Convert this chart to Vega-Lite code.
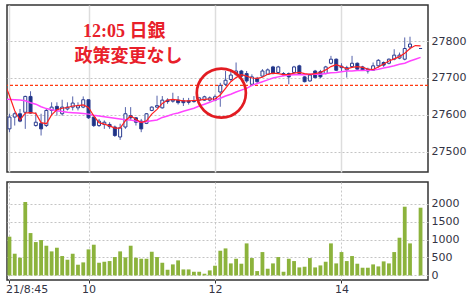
{
  "$schema": "https://vega.github.io/schema/vega-lite/v6.json",
  "padding": {"left": 4, "top": 4, "right": 0, "bottom": 0},
  "background": "white",
  "spacing": 8,
  "config": {
    "view": {"stroke": "#333333", "strokeWidth": 1.5},
    "axis": {
      "labelFont": "DejaVu Sans",
      "labelFontSize": 11,
      "labelColor": "#333344",
      "title": null,
      "domain": false
    }
  },
  "datasets": {
    "bars": [
      {"t": "2021-09-21T08:40", "m1": 27690, "m2": 27643},
      {"t": "2021-09-21T08:45", "o": 27562, "h": 27603, "l": 27553, "c": 27594, "v": 1080, "m1": 27652, "m2": 27642},
      {"t": "2021-09-21T08:50", "o": 27594, "h": 27607, "l": 27571, "c": 27603, "v": 605, "m1": 27611, "m2": 27641},
      {"t": "2021-09-21T08:55", "o": 27603, "h": 27616, "l": 27580, "c": 27583, "v": 493, "m1": 27586, "m2": 27640},
      {"t": "2021-09-21T09:00", "o": 27607, "h": 27652, "l": 27562, "c": 27650, "v": 2047, "m1": 27605, "m2": 27638},
      {"t": "2021-09-21T09:05", "o": 27650, "h": 27664, "l": 27603, "c": 27605, "v": 1181, "m1": 27606, "m2": 27633},
      {"t": "2021-09-21T09:10", "o": 27571, "h": 27607, "l": 27568, "c": 27580, "v": 930, "m1": 27604, "m2": 27629},
      {"t": "2021-09-21T09:15", "o": 27577, "h": 27603, "l": 27544, "c": 27562, "v": 986, "m1": 27579, "m2": 27622},
      {"t": "2021-09-21T09:20", "o": 27571, "h": 27616, "l": 27567, "c": 27612, "v": 828, "m1": 27576, "m2": 27617},
      {"t": "2021-09-21T09:25", "o": 27612, "h": 27634, "l": 27598, "c": 27621, "v": 670, "m1": 27600, "m2": 27614},
      {"t": "2021-09-21T09:30", "o": 27623, "h": 27634, "l": 27598, "c": 27614, "v": 772, "m1": 27614, "m2": 27611},
      {"t": "2021-09-21T09:35", "o": 27603, "h": 27641, "l": 27598, "c": 27621, "v": 540, "m1": 27618, "m2": 27609},
      {"t": "2021-09-21T09:40", "o": 27616, "h": 27634, "l": 27612, "c": 27621, "v": 437, "m1": 27620, "m2": 27607},
      {"t": "2021-09-21T09:45", "o": 27621, "h": 27650, "l": 27612, "c": 27632, "v": 605, "m1": 27624, "m2": 27606},
      {"t": "2021-09-21T09:50", "o": 27619, "h": 27634, "l": 27612, "c": 27625, "v": 298, "m1": 27625, "m2": 27605},
      {"t": "2021-09-21T09:55", "o": 27621, "h": 27650, "l": 27618, "c": 27641, "v": 363, "m1": 27627, "m2": 27604},
      {"t": "2021-09-21T10:00", "o": 27641, "h": 27641, "l": 27589, "c": 27592, "v": 726, "m1": 27620, "m2": 27602},
      {"t": "2021-09-21T10:05", "o": 27594, "h": 27594, "l": 27567, "c": 27571, "v": 856, "m1": 27597, "m2": 27599},
      {"t": "2021-09-21T10:10", "o": 27571, "h": 27589, "l": 27567, "c": 27583, "v": 353, "m1": 27579, "m2": 27597},
      {"t": "2021-09-21T10:15", "o": 27574, "h": 27585, "l": 27562, "c": 27580, "v": 381, "m1": 27575, "m2": 27595},
      {"t": "2021-09-21T10:20", "o": 27574, "h": 27580, "l": 27562, "c": 27568, "v": 400, "m1": 27570, "m2": 27593},
      {"t": "2021-09-21T10:25", "o": 27567, "h": 27571, "l": 27540, "c": 27544, "v": 512, "m1": 27564, "m2": 27591},
      {"t": "2021-09-21T10:30", "o": 27540, "h": 27576, "l": 27532, "c": 27565, "v": 670, "m1": 27564, "m2": 27589},
      {"t": "2021-09-21T10:35", "o": 27567, "h": 27621, "l": 27562, "c": 27603, "v": 502, "m1": 27584, "m2": 27587},
      {"t": "2021-09-21T10:40", "o": 27598, "h": 27621, "l": 27585, "c": 27592, "v": 828, "m1": 27597, "m2": 27586},
      {"t": "2021-09-21T10:45", "o": 27592, "h": 27594, "l": 27571, "c": 27580, "v": 493, "m1": 27588, "m2": 27583},
      {"t": "2021-09-21T10:50", "o": 27583, "h": 27589, "l": 27553, "c": 27562, "v": 465, "m1": 27579, "m2": 27580},
      {"t": "2021-09-21T10:55", "o": 27577, "h": 27605, "l": 27575, "c": 27603, "v": 465, "m1": 27584, "m2": 27582},
      {"t": "2021-09-21T11:00", "o": 27612, "h": 27623, "l": 27610, "c": 27621, "v": 660, "m1": 27602, "m2": 27584},
      {"t": "2021-09-21T11:05", "o": 27621, "h": 27652, "l": 27619, "c": 27625, "v": 512, "m1": 27615, "m2": 27586},
      {"t": "2021-09-21T11:10", "o": 27619, "h": 27651, "l": 27617, "c": 27640, "v": 353, "m1": 27631, "m2": 27593},
      {"t": "2021-09-21T11:15", "o": 27640, "h": 27645, "l": 27630, "c": 27636, "v": 158, "m1": 27640, "m2": 27597},
      {"t": "2021-09-21T11:20", "o": 27637, "h": 27660, "l": 27633, "c": 27640, "v": 307, "m1": 27642, "m2": 27602},
      {"t": "2021-09-21T11:25", "o": 27640, "h": 27651, "l": 27628, "c": 27633, "v": 419, "m1": 27640, "m2": 27605},
      {"t": "2021-09-21T11:30", "o": 27638, "h": 27646, "l": 27624, "c": 27633, "v": 167, "m1": 27638, "m2": 27610},
      {"t": "2021-09-21T11:35", "o": 27638, "h": 27646, "l": 27628, "c": 27634, "v": 167, "m1": 27638, "m2": 27614},
      {"t": "2021-09-21T11:40", "o": 27636, "h": 27651, "l": 27633, "c": 27638, "v": 102, "m1": 27639, "m2": 27618},
      {"t": "2021-09-21T11:45", "o": 27640, "h": 27648, "l": 27638, "c": 27646, "v": 102, "m1": 27640, "m2": 27624},
      {"t": "2021-09-21T11:50", "o": 27640, "h": 27652, "l": 27638, "c": 27649, "v": 47, "m1": 27642, "m2": 27629},
      {"t": "2021-09-21T11:55", "o": 27640, "h": 27650, "l": 27636, "c": 27646, "v": 140, "m1": 27643, "m2": 27634},
      {"t": "2021-09-21T12:00", "o": 27640, "h": 27655, "l": 27637, "c": 27649, "v": 270, "m1": 27643, "m2": 27640},
      {"t": "2021-09-21T12:05", "o": 27662, "h": 27687, "l": 27622, "c": 27680, "v": 688, "m1": 27654, "m2": 27645},
      {"t": "2021-09-21T12:10", "o": 27683, "h": 27719, "l": 27678, "c": 27694, "v": 753, "m1": 27672, "m2": 27651},
      {"t": "2021-09-21T12:15", "o": 27696, "h": 27722, "l": 27692, "c": 27708, "v": 335, "m1": 27690, "m2": 27656},
      {"t": "2021-09-21T12:20", "o": 27710, "h": 27742, "l": 27705, "c": 27719, "v": 465, "m1": 27701, "m2": 27662},
      {"t": "2021-09-21T12:25", "o": 27719, "h": 27722, "l": 27700, "c": 27705, "v": 326, "m1": 27709, "m2": 27667},
      {"t": "2021-09-21T12:30", "o": 27712, "h": 27719, "l": 27687, "c": 27692, "v": 893, "m1": 27705, "m2": 27672},
      {"t": "2021-09-21T12:35", "o": 27683, "h": 27710, "l": 27678, "c": 27703, "v": 484, "m1": 27700, "m2": 27680},
      {"t": "2021-09-21T12:40", "o": 27699, "h": 27703, "l": 27686, "c": 27690, "v": 121, "m1": 27699, "m2": 27685},
      {"t": "2021-09-21T12:45", "o": 27705, "h": 27724, "l": 27703, "c": 27719, "v": 651, "m1": 27702, "m2": 27690},
      {"t": "2021-09-21T12:50", "o": 27710, "h": 27726, "l": 27708, "c": 27722, "v": 186, "m1": 27710, "m2": 27695},
      {"t": "2021-09-21T12:55", "o": 27730, "h": 27733, "l": 27710, "c": 27712, "v": 335, "m1": 27713, "m2": 27700},
      {"t": "2021-09-21T13:00", "o": 27715, "h": 27733, "l": 27712, "c": 27730, "v": 512, "m1": 27712, "m2": 27703},
      {"t": "2021-09-21T13:05", "o": 27712, "h": 27716, "l": 27705, "c": 27708, "v": 102, "m1": 27709, "m2": 27706},
      {"t": "2021-09-21T13:10", "o": 27712, "h": 27715, "l": 27683, "c": 27703, "v": 465, "m1": 27710, "m2": 27708},
      {"t": "2021-09-21T13:15", "o": 27715, "h": 27733, "l": 27712, "c": 27730, "v": 400, "m1": 27713, "m2": 27709},
      {"t": "2021-09-21T13:20", "o": 27733, "h": 27736, "l": 27710, "c": 27712, "v": 223, "m1": 27715, "m2": 27709},
      {"t": "2021-09-21T13:25", "o": 27703, "h": 27705, "l": 27688, "c": 27690, "v": 242, "m1": 27712, "m2": 27709},
      {"t": "2021-09-21T13:30", "o": 27692, "h": 27712, "l": 27690, "c": 27708, "v": 484, "m1": 27710, "m2": 27710},
      {"t": "2021-09-21T13:35", "o": 27719, "h": 27722, "l": 27699, "c": 27701, "v": 223, "m1": 27712, "m2": 27710},
      {"t": "2021-09-21T13:40", "o": 27717, "h": 27722, "l": 27699, "c": 27703, "v": 279, "m1": 27715, "m2": 27710},
      {"t": "2021-09-21T13:45", "o": 27712, "h": 27733, "l": 27710, "c": 27730, "v": 381, "m1": 27722, "m2": 27712},
      {"t": "2021-09-21T13:50", "o": 27740, "h": 27760, "l": 27737, "c": 27751, "v": 893, "m1": 27731, "m2": 27714},
      {"t": "2021-09-21T13:55", "o": 27751, "h": 27753, "l": 27719, "c": 27721, "v": 335, "m1": 27736, "m2": 27715},
      {"t": "2021-09-21T14:00", "o": 27728, "h": 27740, "l": 27719, "c": 27732, "v": 651, "m1": 27731, "m2": 27717},
      {"t": "2021-09-21T14:05", "o": 27722, "h": 27733, "l": 27701, "c": 27728, "v": 400, "m1": 27725, "m2": 27719},
      {"t": "2021-09-21T14:10", "o": 27731, "h": 27760, "l": 27728, "c": 27740, "v": 540, "m1": 27729, "m2": 27719},
      {"t": "2021-09-21T14:15", "o": 27740, "h": 27742, "l": 27722, "c": 27724, "v": 326, "m1": 27731, "m2": 27720},
      {"t": "2021-09-21T14:20", "o": 27730, "h": 27733, "l": 27719, "c": 27721, "v": 214, "m1": 27729, "m2": 27720},
      {"t": "2021-09-21T14:25", "o": 27724, "h": 27728, "l": 27712, "c": 27719, "v": 214, "m1": 27724, "m2": 27721},
      {"t": "2021-09-21T14:30", "o": 27721, "h": 27742, "l": 27719, "c": 27733, "v": 307, "m1": 27723, "m2": 27722},
      {"t": "2021-09-21T14:35", "o": 27733, "h": 27751, "l": 27728, "c": 27748, "v": 251, "m1": 27730, "m2": 27724},
      {"t": "2021-09-21T14:40", "o": 27742, "h": 27745, "l": 27730, "c": 27735, "v": 391, "m1": 27738, "m2": 27727},
      {"t": "2021-09-21T14:45", "o": 27740, "h": 27753, "l": 27737, "c": 27751, "v": 335, "m1": 27746, "m2": 27730},
      {"t": "2021-09-21T14:50", "o": 27751, "h": 27778, "l": 27748, "c": 27762, "v": 651, "m1": 27752, "m2": 27733},
      {"t": "2021-09-21T14:55", "o": 27754, "h": 27769, "l": 27751, "c": 27762, "v": 1051, "m1": 27758, "m2": 27737},
      {"t": "2021-09-21T15:00", "o": 27751, "h": 27810, "l": 27748, "c": 27780, "v": 1916, "m1": 27767, "m2": 27740},
      {"t": "2021-09-21T15:05", "o": 27784, "h": 27812, "l": 27778, "c": 27792, "v": 893, "m1": 27780, "m2": 27746},
      {"t": "2021-09-21T15:10", "m1": 27788, "m2": 27751},
      {"t": "2021-09-21T15:15", "o": 27780, "h": 27780, "l": 27780, "c": 27780, "v": 1888, "m1": 27787, "m2": 27756}
    ],
    "notes": [
      {"t": "2021-09-21T10:34", "p": 27826, "label": "12:05 日銀"},
      {"t": "2021-09-21T10:38", "p": 27758, "label": "政策変更なし"}
    ],
    "focus": [{"t": "2021-09-21T12:06", "p": 27659}],
    "prev": [{"p": 27680}]
  },
  "vconcat": [
    {
      "width": 421,
      "height": 167,
      "data": {"name": "bars"},
      "encoding": {
        "x": {
          "field": "t",
          "type": "temporal",
          "scale": {
            "padding": 0,
            "domain": [
              {"year": 2021, "month": 9, "date": 21, "hours": 8, "minutes": 42, "seconds": 40},
              {"year": 2021, "month": 9, "date": 21, "hours": 15, "minutes": 22, "seconds": 4}
            ]
          },
          "axis": {
            "orient": "bottom",
            "labels": false,
            "ticks": false,
            "grid": true,
            "gridColor": "#dddddd",
            "gridWidth": 1.5,
            "values": [
              {"year": 2021, "month": 9, "date": 21, "hours": 8, "minutes": 45},
              {"year": 2021, "month": 9, "date": 21, "hours": 10, "minutes": 0},
              {"year": 2021, "month": 9, "date": 21, "hours": 12, "minutes": 0},
              {"year": 2021, "month": 9, "date": 21, "hours": 14, "minutes": 0}
            ]
          }
        }
      },
      "layer": [
        {
          "data": {"name": "prev"},
          "mark": {"type": "rule", "color": "#ff3a10", "strokeDash": [3, 2], "strokeWidth": 1.2},
          "encoding": {
            "x": null,
            "y": {
              "field": "p",
              "type": "quantitative",
              "scale": {"domain": [27445, 27898], "zero": false, "nice": false},
              "axis": {
                "orient": "right",
                "values": [27500, 27600, 27700, 27800],
                "format": "d",
                "ticks": false,
                "labelPadding": 3,
                "grid": true,
                "gridColor": "#c4c4c4",
                "gridDash": [2, 2],
                "gridWidth": 1
              }
            }
          }
        },
        {
          "mark": {"type": "rule", "color": "#5563ab", "strokeWidth": 1},
          "encoding": {
            "y": {"field": "l", "type": "quantitative"},
            "y2": {"field": "h"}
          }
        },
        {
          "mark": {"type": "bar", "size": 3, "stroke": "#2a3b8f", "strokeWidth": 1},
          "encoding": {
            "y": {"field": "o", "type": "quantitative"},
            "y2": {"field": "c"},
            "fill": {
              "condition": {"test": "datum.c < datum.o", "value": "#1d3385"},
              "value": "#ffffff"
            }
          }
        },
        {
          "mark": {"type": "line", "color": "#ff44ff", "strokeWidth": 1.5, "clip": true},
          "encoding": {"y": {"field": "m2", "type": "quantitative"}}
        },
        {
          "mark": {"type": "line", "color": "#ff2020", "strokeWidth": 1.2, "clip": true},
          "encoding": {"y": {"field": "m1", "type": "quantitative"}}
        },
        {
          "data": {"name": "focus"},
          "mark": {"type": "point", "shape": "circle", "size": 2410, "filled": false, "stroke": "#e21c22", "strokeWidth": 2.7, "opacity": 1},
          "encoding": {"y": {"field": "p", "type": "quantitative"}}
        },
        {
          "data": {"name": "notes"},
          "mark": {
            "type": "text",
            "font": "Liberation Serif, Noto Sans CJK JP",
            "fontWeight": "bold",
            "fontSize": 18,
            "color": "#e8202a",
            "align": "center",
            "baseline": "middle"
          },
          "encoding": {
            "y": {"field": "p", "type": "quantitative"},
            "text": {"field": "label"}
          }
        }
      ]
    },
    {
      "width": 421,
      "height": 98,
      "data": {"name": "bars"},
      "mark": {"type": "bar", "size": 3.8, "color": "#8cb33c"},
      "encoding": {
        "x": {
          "field": "t",
          "type": "temporal",
          "scale": {
            "padding": 0,
            "domain": [
              {"year": 2021, "month": 9, "date": 21, "hours": 8, "minutes": 42, "seconds": 40},
              {"year": 2021, "month": 9, "date": 21, "hours": 15, "minutes": 22, "seconds": 4}
            ]
          },
          "axis": {
            "orient": "bottom",
            "values": [
              {"year": 2021, "month": 9, "date": 21, "hours": 8, "minutes": 45},
              {"year": 2021, "month": 9, "date": 21, "hours": 10, "minutes": 0},
              {"year": 2021, "month": 9, "date": 21, "hours": 12, "minutes": 0},
              {"year": 2021, "month": 9, "date": 21, "hours": 14, "minutes": 0}
            ],
            "labelExpr": "hours(datum.value) == 8 ? '21/8:45' : '' + hours(datum.value)",
            "labelFlush": false,
            "labelAlign": {"condition": {"test": "hours(datum.value) == 8", "value": "left"}, "value": "center"},
            "labelOffset": {"condition": {"test": "hours(datum.value) == 8", "value": -4}, "value": 0},
            "ticks": true,
            "tickSize": 3,
            "tickColor": "#333333",
            "labelPadding": 0,
            "grid": true,
            "gridColor": "#c8c8c8",
            "gridDash": [2, 2],
            "gridWidth": 1
          }
        },
        "y": {
          "field": "v",
          "type": "quantitative",
          "scale": {"domain": [-128, 2605], "nice": false, "zero": false},
          "axis": {
            "orient": "right",
            "values": [0, 500, 1000, 1500, 2000],
            "format": "d",
            "ticks": false,
            "labelPadding": 3,
            "grid": true,
            "gridColor": "#c4c4c4",
            "gridDash": [2, 2],
            "gridWidth": 1
          }
        }
      }
    }
  ]
}
